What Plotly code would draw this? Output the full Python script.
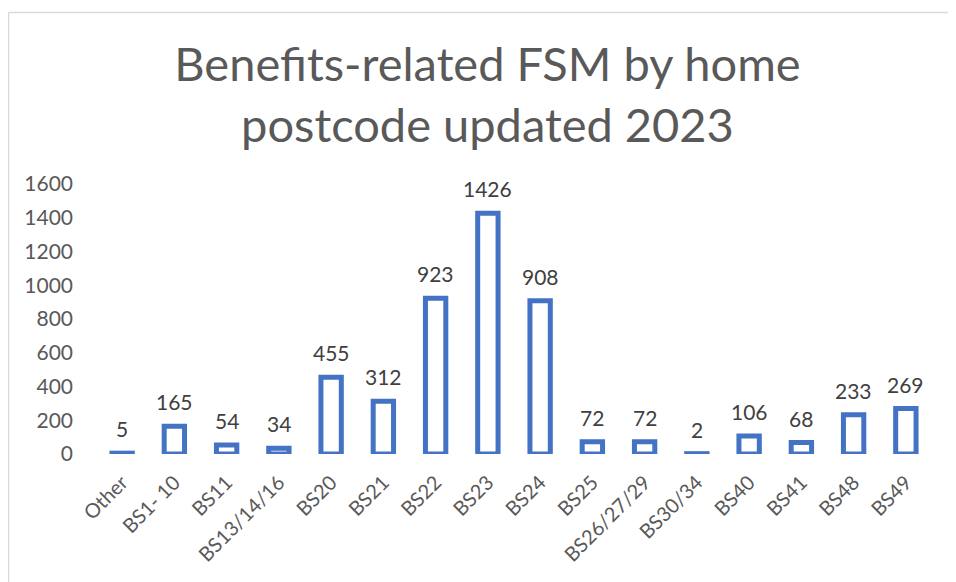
import plotly.graph_objects as go

categories = ["Other", "BS1- 10", "BS11", "BS13/14/16", "BS20", "BS21", "BS22", "BS23",
              "BS24", "BS25", "BS26/27/29", "BS30/34", "BS40", "BS41", "BS48", "BS49"]
values = [5, 165, 54, 34, 455, 312, 923, 1426, 908, 72, 72, 2, 106, 68, 233, 269]
y_ticks = [0, 200, 400, 600, 800, 1000, 1200, 1400, 1600]

# page is offset by ~8px (body margin); work in figure coordinates
OFF = 8
W, H = 956, 582
ML, MT = 96 - OFF, 184 - OFF
PW, PH = 836, 270
MR, MB = W - ML - PW, H - MT - PH

def px_x(px):
    return (px - ML) / PW

def px_y(py):
    return (H - MB - py) / PH

FONT = "Lato, sans-serif"

fig = go.Figure(go.Bar(
    x=categories, y=values,
    marker=dict(color="white", line=dict(color="#4472C4", width=5)),
    width=0.39,
    cliponaxis=False,
))

annotations = [
    dict(x=c, y=v, xref="x", yref="y", text=str(v), showarrow=False,
         yanchor="bottom", yshift=10,
         font=dict(family=FONT, size=21, color="#404040"))
    for c, v in zip(categories, values)
]

fig.update_layout(
    width=W, height=H,
    margin=dict(l=ML, r=MR, t=MT, b=MB),
    paper_bgcolor="white", plot_bgcolor="white",
    showlegend=False,
    annotations=annotations,
    title=dict(text="Benefits-related FSM by home<br>postcode updated 2023",
               x=(487.5 - OFF) / W, xanchor="center",
               yref="container", y=1 - (81 - OFF) / H, yanchor="middle",
               font=dict(family=FONT, size=47, color="#595959")),
    xaxis=dict(tickangle=-45, showline=False, ticks="", ticklabelstandoff=12,
               tickfont=dict(family=FONT, size=20, color="#595959")),
    yaxis=dict(range=[0, 1600], tickvals=y_ticks, showgrid=False, zeroline=False,
               showline=False, ticks="", ticklabelstandoff=22,
               tickfont=dict(family=FONT, size=21, color="#595959")),
    shapes=[
        dict(type="line", xref="paper", yref="paper", x0=px_x(0.5), x1=px_x(970),
             y0=px_y(4.5), y1=px_y(4.5), line=dict(color="#d9d9d9", width=1.5)),
        dict(type="line", xref="paper", yref="paper", x0=px_x(0.5), x1=px_x(0.5),
             y0=px_y(4.5), y1=px_y(600), line=dict(color="#d9d9d9", width=1.5)),
    ],
)

fig.write_html("out.html")
